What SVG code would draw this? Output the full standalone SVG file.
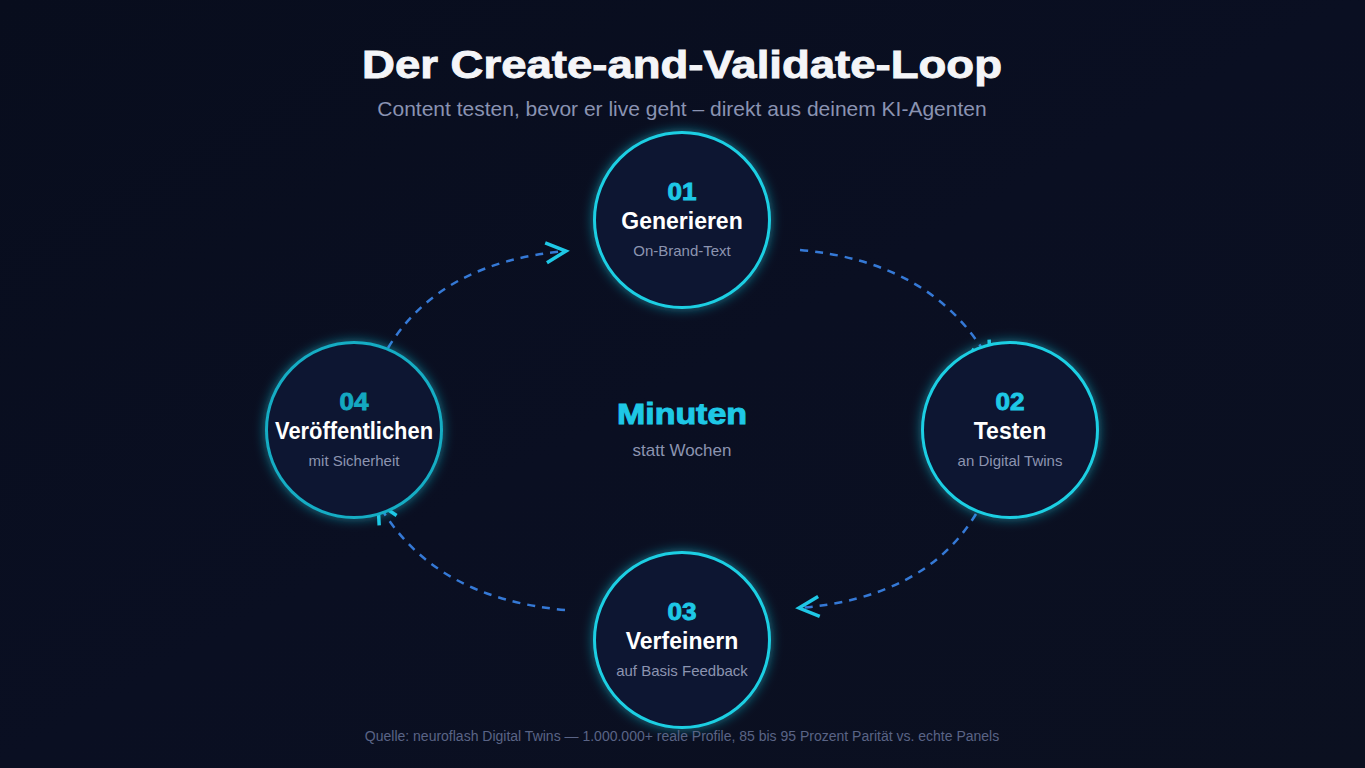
<svg xmlns="http://www.w3.org/2000/svg" width="1365" height="768" viewBox="0 0 1365 768">
<defs>
<linearGradient id="bg" x1="0" y1="0" x2="1" y2="1">
<stop offset="0" stop-color="#080d1d"/>
<stop offset="0.5" stop-color="#0a0f22"/>
<stop offset="1" stop-color="#0b1020"/>
</linearGradient>
<filter id="glow" x="-30%" y="-30%" width="160%" height="160%">
<feGaussianBlur in="SourceAlpha" stdDeviation="6" result="b"/>
<feFlood flood-color="#1ecfe6" flood-opacity="0.55"/>
<feComposite in2="b" operator="in" result="g"/>
<feMerge><feMergeNode in="g"/><feMergeNode in="SourceGraphic"/></feMerge>
</filter>
<marker id="chev" viewBox="0 0 30 30" refX="23" refY="15" markerWidth="30" markerHeight="30" markerUnits="userSpaceOnUse" orient="auto">
<path d="M3,5 L23,15 L3,25" fill="none" stroke="#1fc8e6" stroke-width="3.5"/>
</marker>
<style>
.ring{fill:#0c1633;stroke:#1ccfe3;stroke-width:3}
.num{font-family:"Liberation Sans",Arial,sans-serif;font-weight:900;font-size:24px;fill:#1ec8e6;text-anchor:middle;stroke:#1ec8e6;stroke-width:0.9}
.ttl{font-family:"Liberation Sans",Arial,sans-serif;font-weight:700;font-size:23px;fill:#ffffff;text-anchor:middle}
.sub{font-family:"Liberation Sans",Arial,sans-serif;font-size:15px;fill:#8c94b0;text-anchor:middle}
.flow{fill:none;stroke:#3579d6;stroke-width:2.5;stroke-dasharray:8 7}
.dim{fill:#0b1633;stroke:#13adc4}
.dimnum{fill:#14a8c0;stroke:#14a8c0}
</style>
</defs>
<rect width="1365" height="768" fill="url(#bg)"/>
<text x="682" y="78" text-anchor="middle" font-family="'Liberation Sans',Arial,sans-serif" font-weight="900" font-size="38" fill="#f4f5f8" textLength="640" lengthAdjust="spacingAndGlyphs" stroke="#f4f5f8" stroke-width="0.9">Der Create-and-Validate-Loop</text>
<text x="682" y="116" text-anchor="middle" font-family="'Liberation Sans',Arial,sans-serif" font-size="21" fill="#8a93b2">Content testen, bevor er live geht – direkt aus deinem KI-Agenten</text>
<g id="connectors">
<path class="flow" d="M388,348 Q440,262 566,251" marker-end="url(#chev)"/>
<path class="flow" d="M800,250 Q935,262 990,362" marker-end="url(#chev)"/>
<path class="flow" d="M976,514 Q925,598 799,608" marker-end="url(#chev)"/>
<path class="flow" d="M565,610 Q432,598 378,503" marker-end="url(#chev)"/>
</g>
<g id="node1">
<circle class="ring" cx="682" cy="220" r="87.5" filter="url(#glow)"/>
<text class="num" x="682" y="200" textLength="29" lengthAdjust="spacingAndGlyphs">01</text>
<text class="ttl" x="682" y="229">Generieren</text>
<text class="sub" x="682" y="256">On-Brand-Text</text>
</g>
<g id="node2">
<circle class="ring" cx="1010" cy="430" r="87.5" filter="url(#glow)"/>
<text class="num" x="1010" y="410" textLength="29" lengthAdjust="spacingAndGlyphs">02</text>
<text class="ttl" x="1010" y="439">Testen</text>
<text class="sub" x="1010" y="466">an Digital Twins</text>
</g>
<g id="node3">
<circle class="ring" cx="682" cy="640" r="87.5" filter="url(#glow)"/>
<text class="num" x="682" y="620" textLength="29" lengthAdjust="spacingAndGlyphs">03</text>
<text class="ttl" x="682" y="649">Verfeinern</text>
<text class="sub" x="682" y="676">auf Basis Feedback</text>
</g>
<g id="node4">
<circle class="ring dim" cx="354" cy="430" r="87.5" filter="url(#glow)"/>
<text class="num dimnum" x="354" y="410" textLength="29" lengthAdjust="spacingAndGlyphs">04</text>
<text class="ttl" x="354" y="439" textLength="158" lengthAdjust="spacingAndGlyphs">Veröffentlichen</text>
<text class="sub" x="354" y="466">mit Sicherheit</text>
</g>
<g id="center">
<text x="682" y="424" text-anchor="middle" font-family="'Liberation Sans',Arial,sans-serif" font-weight="900" font-size="29" fill="#1ec8e6" stroke="#1ec8e6" stroke-width="1" textLength="130" lengthAdjust="spacingAndGlyphs">Minuten</text>
<text x="682" y="456" text-anchor="middle" font-family="'Liberation Sans',Arial,sans-serif" font-size="17" fill="#8c94b0">statt Wochen</text>
</g>
<text x="682" y="741" text-anchor="middle" font-family="'Liberation Sans',Arial,sans-serif" font-size="14" fill="#5a6486">Quelle: neuroflash Digital Twins — 1.000.000+ reale Profile, 85 bis 95 Prozent Parität vs. echte Panels</text>
</svg>
